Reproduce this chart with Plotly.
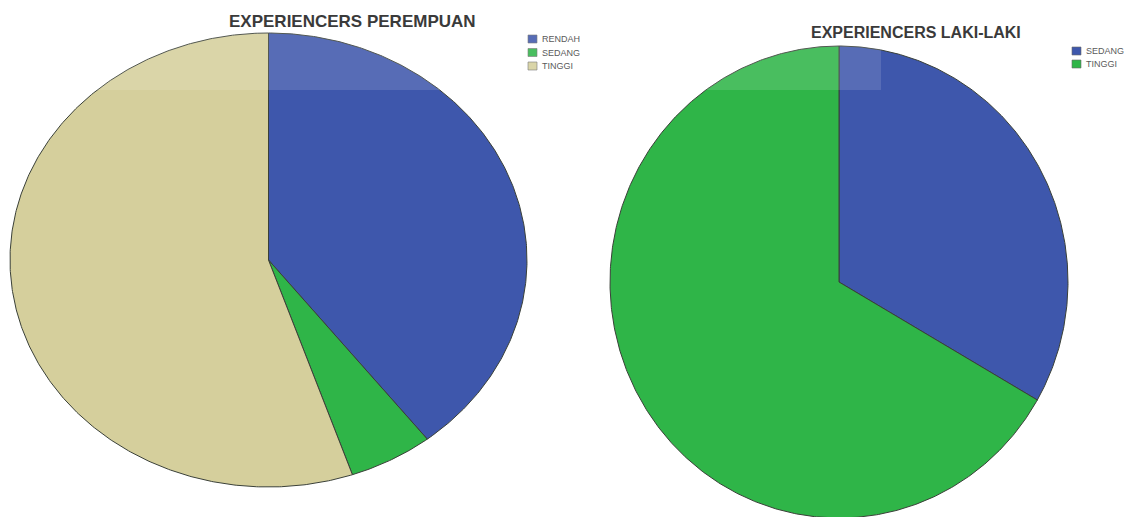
import numpy as np
import plotly.graph_objects as go

# Respondent counts per category
female_categories = ["RENDAH", "SEDANG", "TINGGI"]
female_counts = [15, 2, 21]
male_categories = ["SEDANG", "TINGGI"]
male_counts = [4, 8]

female_title = "EXPERIENCERS PEREMPUAN"
male_title = "EXPERIENCERS LAKI-LAKI"

# Palette applied in category order
palette = ["#3E57AC", "#2FB548", "#D5CF9C"]
outline = "#3a4038"

W, H = 1138, 517

# Pie layout in pixel space: centre and semi-axes (ellipses, stretched pies)
female_geom = dict(cx=268.5, cy=260.0, a=258.5, b=227.0)
male_geom = dict(cx=839.0, cy=282.0, a=229.0, b=236.0)

fig = go.Figure()


def add_pie(counts, geom, name):
    total = float(sum(counts))
    start = 0.0
    for i, v in enumerate(counts):
        span = 2 * np.pi * v / total
        n = max(int(span / (2 * np.pi) * 720), 4)
        t = np.linspace(start, start + span, n)
        xs = geom["cx"] + geom["a"] * np.sin(t)
        ys = geom["cy"] - geom["b"] * np.cos(t)
        xs = np.concatenate([[geom["cx"]], xs, [geom["cx"]]])
        ys = np.concatenate([[geom["cy"]], ys, [geom["cy"]]])
        fig.add_trace(go.Scatter(
            x=xs, y=ys, mode="lines", fill="toself",
            fillcolor=palette[i], line=dict(color=outline, width=1),
            name=f"{name}", hoverinfo="skip", showlegend=False,
        ))
        start += span


add_pie(female_counts, female_geom, "perempuan")
add_pie(male_counts, male_geom, "laki-laki")

shapes = []
annotations = []


def add_legend(categories, x0, y0, step):
    for i, cat in enumerate(categories):
        yc = y0 + i * step
        shapes.append(dict(type="rect", xref="x", yref="y",
                           x0=x0, x1=x0 + 9, y0=yc - 4, y1=yc + 4,
                           fillcolor=palette[i], line=dict(color="#6a6a6a", width=0.6)))
        annotations.append(dict(x=x0 + 12, y=yc, xref="x", yref="y", text=cat,
                                showarrow=False, xanchor="left", yanchor="middle",
                                font=dict(family="Liberation Sans, Arial", size=9, color="#5a5a5a")))


add_legend(female_categories, 528, 39, 13.5)
add_legend(male_categories, 1072, 51, 13)

annotations.append(dict(x=352, y=21, xref="x", yref="y", text=f"<b>{female_title}</b>",
                        showarrow=False, xanchor="center", yanchor="middle",
                        font=dict(family="Liberation Sans, Arial", size=17, color="#3a3a3a")))
annotations.append(dict(x=916, y=32.5, xref="x", yref="y", text=f"<b>{male_title}</b>",
                        showarrow=False, xanchor="center", yanchor="middle",
                        font=dict(family="Liberation Sans, Arial", size=16, color="#3a3a3a")))

# faint light band across the top
shapes.append(dict(type="rect", xref="x", yref="y", x0=0, x1=881, y0=0, y1=90,
                   fillcolor="white", opacity=0.13, line=dict(width=0), layer="above"))

fig.update_layout(
    width=W, height=H,
    margin=dict(l=0, r=0, t=0, b=0),
    paper_bgcolor="white", plot_bgcolor="white",
    xaxis=dict(range=[0, W], visible=False, fixedrange=True),
    yaxis=dict(range=[H, 0], visible=False, fixedrange=True),
    shapes=shapes, annotations=annotations,
    showlegend=False,
)

fig.write_html("out.html")
